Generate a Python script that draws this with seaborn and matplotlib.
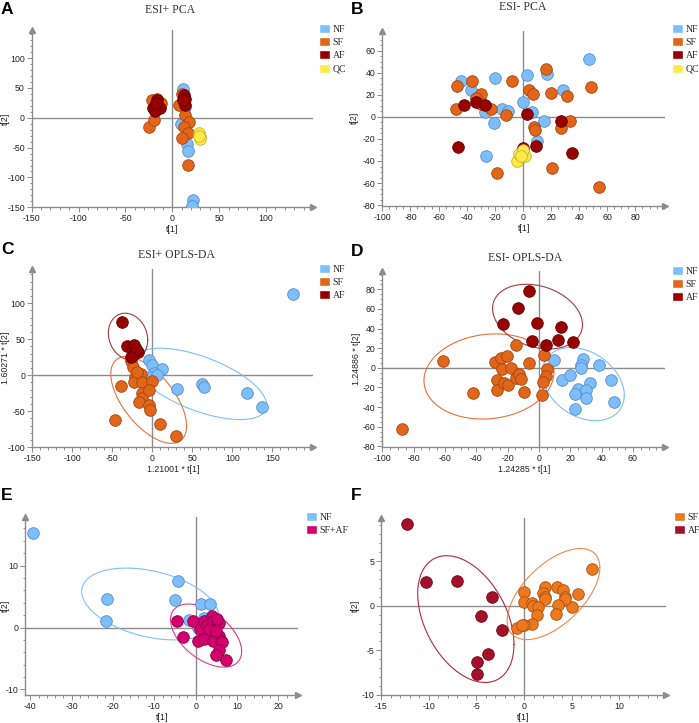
import numpy as np
import matplotlib
matplotlib.use("Agg")
import matplotlib.pyplot as plt
from matplotlib.patches import Patch
from matplotlib.ticker import AutoMinorLocator
from matplotlib.transforms import blended_transform_factory
import seaborn as sns

# ---- colours ----
NF_C, NF_E = '#7DBEFF', '#5A8CC4'
SF_C, SF_E = '#E2661A', '#A34610'
AF_C, AF_E = '#990000', '#5E0000'
QC_C, QC_E = '#FFEA4D', '#C9B225'
MIX_C, MIX_E = '#D4006E', '#8A0047'
FSF_C, FSF_E = '#EC7820', '#A85312'
FAF_C, FAF_E = '#A5102A', '#6A0818'

# ---- A: ESI+ PCA ----
a_nf_x = [11.3, 9, 16, 17, 22, 20.6, 13.5]
a_nf_y = [49, -11, -44, -56, -138, -147, 18]
a_sf_x = [-22, -25, -20, -12, -16, 10.6, 7, 13.5, 17.7, 12.4, 17, 10.6, 16.7]
a_sf_y = [29, -16, -3, 24, 32, 40, 21, 5, -7, -15, -26, -34, -79]
a_af_x = [-21, -16, -13, -18.4, -17, 12.4, 14, 14, 11.7]
a_af_y = [17, 30, 17, 12, 24, 38, 31, 21, 29]
a_qc_x = [28.4, 29, 29.4, 28.7]
a_qc_y = [-26, -33, -35, -30]

# ---- B: ESI- PCA ----
b_nf_x = [-19.8, -43.8, -37.1, -27.1, -20.7, -14.8, -10.5, 0, 2.9, 16.9, 6.7, 15, 9.8, 28.3, 46.7, -26]
b_nf_y = [34.8, 32.7, 24.2, 4.5, -5.5, 7, 5.5, 13.6, 38.2, 38.8, 4.5, -3.6, -21.8, 24.2, 52, -35.2]
b_sf_x = [-46.7, -47.9, -36.4, -30, -33.1, -22.4, -11.9, -8.1, 4.5, 7.4, 16.4, 19.8, 31.2, 48.3,
          7.6, 8.3, 27.1, 33.8, 21, -18.3, 53.8, -29.5]
b_sf_y = [27.9, 6.7, 32, 20.3, 16.7, 6.7, 1.8, 32.7, 24.2, 20.3, 43, 21.5, 18.8, 26.7,
          -9.1, -11.5, -10.3, -3.6, -46.4, -50.9, -63.9, 12]
b_af_x = [-41.9, -33.1, -26.7, 2.6, 27.4, 9.3, -46, 34.8, 0]
b_af_y = [10.3, 13.6, 10.6, 2.4, -3.9, -26.7, -27.6, -32.4, -27.9]
b_qc_x = [-4.5, -2.6, -0.2, 1.2, 0.2, -1.7]
b_qc_y = [-39.7, -33.9, -31.8, -35.5, -30.3, -35.8]

# ---- C: ESI+ OPLS-DA ----
c_nf_x = [175.4, -4.2, -0.8, 11.7, 2.5, -4.2, 30.4, 61.7, 64.6, 117.9, 136.7, 5.4]
c_nf_y = [112.5, 21.3, 14.4, 8.3, 3.7, -2.8, -19.4, -12, -15.7, -24.1, -43.5, 0.5]
c_sf_x = [-26.7, -23.8, -21.7, -22.9, -14.6, -13.3, 0, -39.2, -13.3, -13.3, -16.3, -4.2, -2.9,
          -4.2, -46.7, 9.6, 29.6, -19.6]
c_sf_y = [20.4, 12, -1.9, -9.7, 1.9, -8.8, -7.9, -14.8, -25, -32, -37.5, -41.2, -48.1,
          -20.4, -62, -67.6, -83.8, 5]
c_af_x = [-38.3, -31.3, -22.5, -17.5, -24.6, -20.4, -26.7]
c_af_y = [73.6, 40.3, 42.1, 32.9, 28.2, 36.1, 25]

# ---- D: ESI- OPLS-DA ----
d_nf_x = [9.8, 28.3, 26.6, 26.6, 38.3, 14.5, 20, 32.6, 46, 25.1, 23, 30, 29.8, 47.9, 22.8]
d_nf_y = [7.5, 9.2, 3.1, 0, 2.4, -12.9, -7.1, -15.6, -12.9, -21.4, -26.4, -22.7, -30.8, -35.3, -42]
d_sf_x = [-61.1, -87.7, -41.9, -28.1, -24.5, -20.2, -23.8, -17.9, -27, -27, -22.3, -19.8,
          -14.7, -14.7, -12.6, -11.7, -9.6, -6.2, 3.4, 4.9, 4.3, 2.8, 1.9]
d_sf_y = [7.1, -62, -25.4, 6.4, 9.8, 12.5, -1.4, -0.3, -12.2, -22.4, -15.6, -17.3,
          23.4, -10.5, -6.1, -11.2, -25.1, 5.4, 13.2, -1.4, -8.8, -14.2, -27.5]
d_af_x = [-6.2, -13.6, -23.2, -1.1, 13.8, 12.3, -4.3, 4.5, 21.9]
d_af_y = [78.6, 60.7, 44.7, 46.1, 42, 28.5, 27.5, 23.4, 26.1]

# ---- E: NF vs SF+AF ----
e_nf_x = [-39.4, -21.4, -21.7, -4.2, -5, 1.2, 3.5, -1.6, 0.5, 2]
e_nf_y = [15.2, 4.6, 1, 7.5, 4.5, 3.8, 3.8, 1.2, 0, 1.6]
e_mix_x = [-4.6, -3.2, -0.7, 1, 0.5, 2, 1.9, 2.7, 3.9, 4.1, 4.7, 5.5, 4.7, 5.7, 4.1, 6.1,
           6.3, 5.5, 4.8, 7.2, 3.1, 5.1, 4.9]
e_mix_y = [1.1, -1.6, 1, -0.2, -2.1, -1.8, 1.1, 0.4, 1.8, 1, -0.2, 0.7, -0.9, -1.3, -2.2, -2.1,
           -2.4, -3.6, -4.4, -5.2, -0.2, 1.4, -0.6]

# ---- F: SF vs AF ----
f_sf_x = [7.1, 5.7, 5, 2.2, 3.5, 4.1, 4.3, 4.3, 3.6, 3.4, 2, 2.2, 2.2, 0, 0, 0.8, 0.9, 1.5,
          1.4, 0.8, 0, -0.7, -0.2]
f_sf_y = [4.1, 1.3, -0.2, 2.1, 2.1, 1.7, 1, 0.7, 0.1, -0.9, 1.4, 1, 0.7, 1.5, 0.4, 0.3, 0,
          -0.2, -1, -2.1, -2.2, -2.5, -2.2]
f_af_x = [-12.3, -10.3, -7, -3.4, -4.5, -2.3, -3.8, -4.9, -4.9]
f_af_y = [9.2, 2.6, 2.8, 1, -1.2, -2.7, -5.4, -6.3, -7.6]

# ellipses: centre x, centre y, half width, half height, tilt (sin of phase)
c_ell_af = (-30.4, 53.7, 24.6, 32.4, -0.15)
c_ell_sf = (-4.6, -34.3, 47.3, 60.2, -0.6)
c_ell_nf = (59.6, -12, 83.3, 49.5, -0.6)
d_ell_af = (-0.9, 52.2, 28.7, 33, -0.25)
d_ell_sf = (-31.9, -8.8, 41.5, 43.4, 0.1)
d_ell_nf = (28.3, -16.6, 26.2, 37.3, -0.3)
e_ell_nf = (-11, 3.8, 16.6, 5.8, -0.35)
e_ell_mix = (2.5, -1.3, 8.6, 5.1, -0.5)
f_ell_af = (-6.1, -1.5, 5.05, 7.1, -0.4)
f_ell_sf = (3.1, 1.3, 4.86, 5.1, 0.58)

sns.set_theme(style='white')
plt.rcParams['font.family'] = ['Liberation Sans', 'DejaVu Sans']
plt.rcParams['axes.unicode_minus'] = False

W, H = 699, 723
fig = plt.figure(figsize=(W / 100, H / 100), dpi=100)
GRAY = '#8C8C8C'


def make_ax(l, t, r, b):
    return fig.add_axes([l / W, 1 - b / H, (r - l) / W, (b - t) / H])


def style_ax(ax, xlim, ylim, xt, yt, xminor, yminor, xlabel, ylabel, ylab_x):
    ax.set_xlim(xlim)
    ax.set_ylim(ylim)
    ax.set_xticks(xt)
    ax.set_yticks(yt)
    ax.xaxis.set_minor_locator(AutoMinorLocator(xminor))
    ax.yaxis.set_minor_locator(AutoMinorLocator(yminor))
    ax.spines['top'].set_visible(False)
    ax.spines['right'].set_visible(False)
    for s in ['left', 'bottom']:
        ax.spines[s].set_color(GRAY)
        ax.spines[s].set_linewidth(1)
    ax.tick_params(which='both', direction='out', color=GRAY, labelsize=6.3,
                   labelcolor='#222222', left=True, bottom=True, width=0.7)
    ax.tick_params(which='major', length=3.5, pad=1.5)
    ax.tick_params(which='minor', length=1.8)
    ax.axhline(0, color=GRAY, lw=1, zorder=1)
    ax.axvline(0, color=GRAY, lw=1, zorder=1)
    ax.plot(1, 0, '>', color=GRAY, ms=5, transform=ax.transAxes, clip_on=False)
    ax.plot(0, 1, '^', color=GRAY, ms=5, transform=ax.transAxes, clip_on=False)
    ax.set_xlabel(xlabel, fontsize=6.3, labelpad=1.5, color='#222222')
    ax.set_ylabel(ylabel, fontsize=6.3, color='#222222')
    # y label: its right edge sits at a fixed pixel column of the figure
    ax.yaxis.set_label_coords(ylab_x / W, 0.5,
                              transform=blended_transform_factory(fig.transFigure, ax.transAxes))
    ax.set_facecolor('white')


def pts(ax, x, y, fc, ec):
    sns.scatterplot(x=x, y=y, ax=ax, color=fc, edgecolor=ec, linewidth=0.6, s=70,
                    zorder=3, legend=False)


def ellipse(ax, e, color):
    cx, cy, rx, ry, s = e
    t = np.linspace(0, 2 * np.pi, 300)
    phi = np.arcsin(s)
    ax.plot(cx + rx * np.cos(t), cy + ry * np.sin(t + phi), color=color, lw=0.8, zorder=2)


def legend(ax, items, x, y):
    handles = [Patch(facecolor=c, edgecolor='white', label=l) for l, c in items]
    ax.legend(handles=handles, loc='upper left', bbox_to_anchor=(x / W, 1 - y / H),
              bbox_transform=fig.transFigure, frameon=False, handlelength=1.15,
              handleheight=1.05, handletextpad=0.25, labelspacing=0.35, borderpad=0,
              borderaxespad=0, prop={'family': 'Liberation Serif', 'size': 7})


def title(x, y, txt):
    fig.text(x / W, 1 - y / H, txt, ha='center', va='center', family='Liberation Serif',
             fontsize=8.5, color='#333333')


def letter(x, y, txt):
    fig.text(x / W, 1 - y / H, txt, ha='left', va='center', fontsize=12.5,
             fontweight='bold', color='black')


# A
ax = make_ax(31.7, 30, 313, 207.3)
style_ax(ax, (-150, 150), (-150, 147), range(-150, 101, 50), range(-150, 101, 50), 5, 5,
         't[1]', 't[2]', 10)
pts(ax, a_nf_x, a_nf_y, NF_C, NF_E)
pts(ax, a_sf_x, a_sf_y, SF_C, SF_E)
pts(ax, a_af_x, a_af_y, AF_C, AF_E)
pts(ax, a_qc_x, a_qc_y, QC_C, QC_E)
legend(ax, [('NF', NF_C), ('SF', SF_C), ('AF', AF_C), ('QC', QC_C)], 319, 24)
title(170, 10, 'ESI+ PCA')
letter(1, 9, 'A')

# B
ax = make_ax(382.3, 30.7, 665, 205.7)
style_ax(ax, (-100, 101), (-80.5, 78), range(-100, 81, 20), range(-80, 61, 20), 4, 4,
         't[1]', 't[2]', 359)
pts(ax, b_nf_x, b_nf_y, NF_C, NF_E)
pts(ax, b_sf_x, b_sf_y, SF_C, SF_E)
pts(ax, b_af_x, b_af_y, AF_C, AF_E)
pts(ax, b_qc_x, b_qc_y, QC_C, QC_E)
legend(ax, [('NF', NF_C), ('SF', SF_C), ('AF', AF_C), ('QC', QC_C)], 672, 24)
title(523, 7, 'ESI- PCA')
letter(351, 9, 'B')

# C
ax = make_ax(32.3, 269.3, 313.3, 447.3)
style_ax(ax, (-150, 201), (-100, 147), range(-150, 151, 50), range(-100, 101, 50), 5, 5,
         '1.21001 * t[1]', '1.60271 * t[2]', 10)
ellipse(ax, c_ell_nf, NF_C)
ellipse(ax, c_ell_sf, '#E8703A')
ellipse(ax, c_ell_af, '#A83A3A')
pts(ax, c_nf_x, c_nf_y, NF_C, NF_E)
pts(ax, c_sf_x, c_sf_y, SF_C, SF_E)
pts(ax, c_af_x, c_af_y, AF_C, AF_E)
legend(ax, [('NF', NF_C), ('SF', SF_C), ('AF', AF_C)], 319, 264)
title(177, 255, 'ESI+ OPLS-DA')
letter(1, 249, 'C')

# D
ax = make_ax(382.3, 270.7, 665, 447.3)
style_ax(ax, (-100, 80.5), (-81, 99), range(-100, 61, 20), range(-80, 81, 20), 4, 4,
         '1.24285 * t[1]', '1.24886 * t[2]', 361)
ellipse(ax, d_ell_nf, NF_C)
ellipse(ax, d_ell_sf, '#E8703A')
ellipse(ax, d_ell_af, '#A83A3A')
pts(ax, d_nf_x, d_nf_y, NF_C, NF_E)
pts(ax, d_sf_x, d_sf_y, SF_C, SF_E)
pts(ax, d_af_x, d_af_y, AF_C, AF_E)
legend(ax, [('NF', NF_C), ('SF', SF_C), ('AF', AF_C)], 672, 266)
title(525, 258, 'ESI- OPLS-DA')
letter(351, 251, 'D')

# E
ax = make_ax(25, 516.7, 298.3, 695)
style_ax(ax, (-41.3, 24.8), (-10.9, 17.9), range(-40, 21, 10), range(-10, 11, 10), 5, 5,
         't[1]', 't[2]', 10)
ellipse(ax, e_ell_nf, NF_C)
ellipse(ax, e_ell_mix, '#E03C82')
pts(ax, e_nf_x, e_nf_y, NF_C, NF_E)
pts(ax, e_mix_x, e_mix_y, MIX_C, MIX_E)
legend(ax, [('NF', NF_C), ('SF+AF', MIX_C)], 306, 512)
letter(1, 496, 'E')

# F
ax = make_ax(381, 517.7, 666, 695)
style_ax(ax, (-15, 14.9), (-10, 9.85), range(-15, 11, 5), range(-10, 6, 5), 5, 5,
         't[1]', 't[2]', 360)
ellipse(ax, f_ell_af, '#B02A3A')
ellipse(ax, f_ell_sf, '#F08848')
pts(ax, f_af_x, f_af_y, FAF_C, FAF_E)
pts(ax, f_sf_x, f_sf_y, FSF_C, FSF_E)
legend(ax, [('SF', FSF_C), ('AF', FAF_C)], 674, 512)
letter(351, 496, 'F')

fig.savefig('out.png', dpi=100, facecolor='white')
